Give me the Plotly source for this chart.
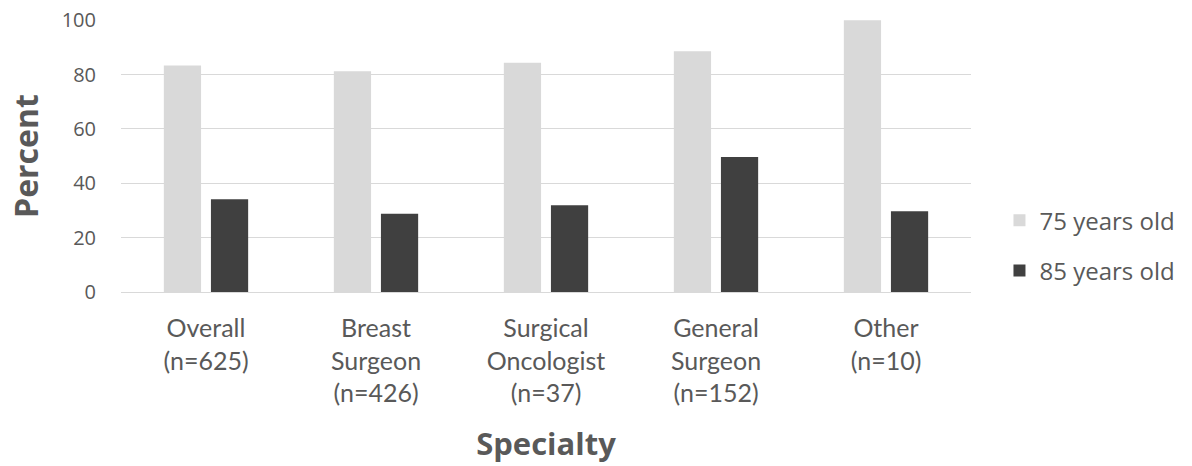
import plotly.graph_objects as go

categories = [
    "Overall<br>(n=625)",
    "Breast<br>Surgeon<br>(n=426)",
    "Surgical<br>Oncologist<br>(n=37)",
    "General<br>Surgeon<br>(n=152)",
    "Other<br>(n=10)",
]
pct_75 = [83.3, 81.2, 84.3, 88.6, 100]
pct_85 = [34.1, 28.8, 31.9, 49.7, 29.7]

fig = go.Figure()

fig.add_trace(go.Bar(
    x=categories,
    y=pct_75,
    name="75 years old",
    legendgroup="a",
    marker=dict(color="#d9d9d9", line=dict(width=0)),
))
fig.add_trace(go.Bar(
    x=categories,
    y=pct_85,
    name="85 years old",
    legendgroup="b",
    marker=dict(color="#404040", line=dict(width=0)),
))

# y title as an annotation so it can sit closer to the left edge
fig.add_annotation(
    text="<b>Percent</b>",
    xref="paper", yref="paper",
    x=-0.113, y=0.5,
    xanchor="center", yanchor="middle",
    textangle=-90,
    showarrow=False,
    font=dict(family="Open Sans", size=32, color="#595959"),
)

fig.update_layout(
    width=1192,
    height=466,
    margin=dict(l=121, r=215, t=20, b=174),
    plot_bgcolor="white",
    paper_bgcolor="white",
    barmode="group",
    bargap=0.446,
    bargroupgap=0.21,
    font=dict(family="Open Sans", color="#595959"),
    legend=dict(
        x=1.0335, y=0.17, xanchor="left", yanchor="middle",
        font=dict(size=24, color="#595959", family="Open Sans"),
        traceorder="grouped",
        tracegroupgap=16,
    ),
    xaxis=dict(
        automargin=False,
        tickfont=dict(family="Lato", size=25, color="#595959"),
        ticklabelstandoff=14,
        title=dict(text="<b>Specialty</b>", font=dict(family="Open Sans", size=31, color="#595959"), standoff=27),
        showline=True, linecolor="#d9d9d9", linewidth=1,
        ticks="",
    ),
    yaxis=dict(
        automargin=False,
        range=[0, 100.05],
        dtick=20,
        tickfont=dict(family="Open Sans", size=20, color="#595959"),
        ticklabelstandoff=24,
        ticklabeloverflow="allow",
        showgrid=True, gridcolor="#d9d9d9", gridwidth=1,
        zeroline=False,
        ticks="",
    ),
)

# drop the default 8px page margin so the figure sits at the window corner
fig.write_html(
    "out.html",
    config={"displayModeBar": False},
    post_script="document.body.style.margin='0';",
)
